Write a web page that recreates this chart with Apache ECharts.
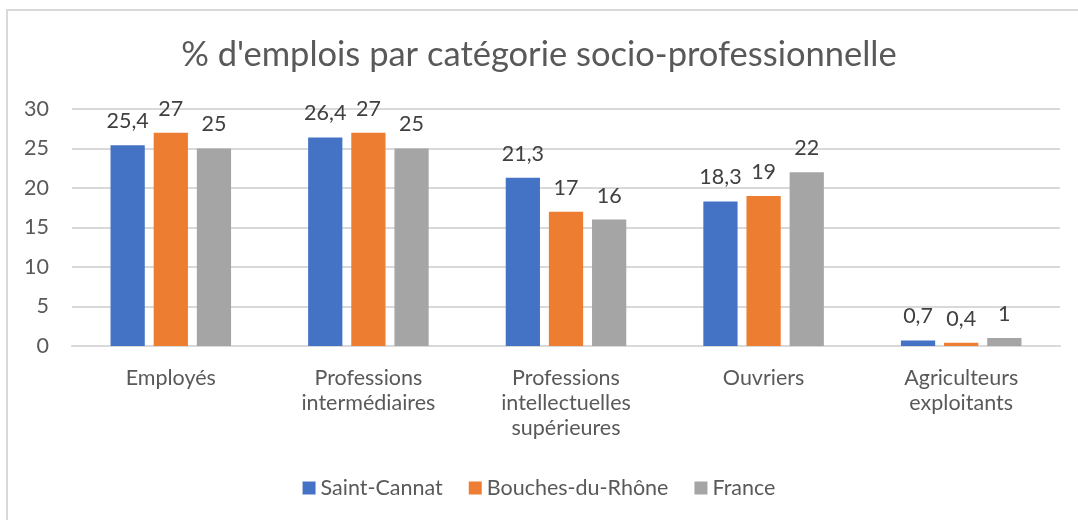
<!DOCTYPE html>
<html><head><meta charset="utf-8">
<script src="https://cdn.jsdelivr.net/npm/echarts@6/dist/echarts.min.js"></script>
<style>html,body{margin:0;padding:0;background:#fff}#c{width:1078px;height:520px}</style>
</head><body><div id="c"></div>
<script>
const categories = ["Employés", "Professions\nintermédiaires", "Professions\nintellectuelles\nsupérieures", "Ouvriers", "Agriculteurs\nexploitants"];
const saintCannat = [25.4, 26.4, 21.3, 18.3, 0.7];
const bouchesDuRhone = [27, 27, 17, 19, 0.4];
const france = [25, 25, 16, 22, 1];
const seriesNames = ["Saint-Cannat", "Bouches-du-Rhône", "France"];
const colors = ["#4472c4", "#ed7d31", "#a5a5a5"];
const FONT = "Lato";
const FS = 21.5;

const chart = echarts.init(document.getElementById('c'));
const fmt = p => String(p.value).replace('.', ',');
const mk = (name, data, color) => ({
  name, type: 'bar', data,
  barGap: '26%', barCategoryGap: '39%',
  itemStyle: { color },
  label: { show: true, position: 'top', distance: 13, formatter: fmt,
    fontFamily: FONT, fontSize: FS, color: '#404040' }
});
chart.setOption({
  animation: false,
  textStyle: { fontFamily: FONT },
  graphic: [{ type: 'rect', shape: { x: 7, y: 10, width: 1100, height: 600 },
    style: { fill: 'none', stroke: '#d9d9d9', lineWidth: 2 }, silent: true }],
  title: { text: "% d'emplois par catégorie socio-professionnelle", left: 'center', top: 32,
    textStyle: { fontFamily: FONT, fontSize: 34.5, fontWeight: 'normal', color: '#595959' } },
  legend: { bottom: 16, left: 'center', itemWidth: 13, itemHeight: 13, itemGap: 26,
    icon: 'rect', textStyle: { fontFamily: FONT, fontSize: FS, color: '#595959' },
    data: seriesNames },
  grid: { left: 72, right: 18, top: 109, bottom: 174, containLabel: false },
  xAxis: { type: 'category', data: categories,
    axisLine: { lineStyle: { color: '#d9d9d9', width: 2 } }, axisTick: { show: false },
    axisLabel: { interval: 0, margin: 20, lineHeight: 25, fontFamily: FONT, fontSize: FS, color: '#595959' } },
  yAxis: { type: 'value', min: 0, max: 30, interval: 5,
    axisLine: { show: false }, axisTick: { show: false },
    splitLine: { lineStyle: { color: '#d9d9d9', width: 2 } },
    axisLabel: { margin: 23, fontFamily: FONT, fontSize: FS, color: '#595959' } },
  series: [mk(seriesNames[0], saintCannat, colors[0]), mk(seriesNames[1], bouchesDuRhone, colors[1]), mk(seriesNames[2], france, colors[2])]
});
</script></body></html>
